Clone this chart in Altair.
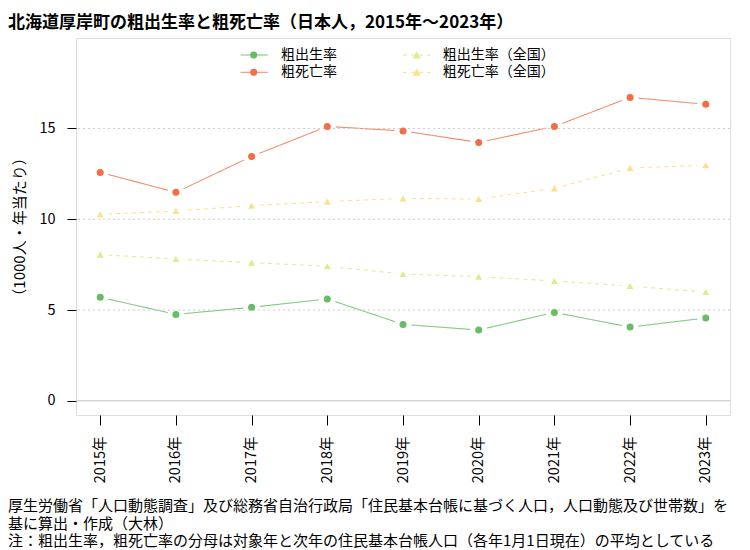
import altair as alt
import pandas as pd

years = [2015, 2016, 2017, 2018, 2019, 2020, 2021, 2022, 2023]
birth = [5.70, 4.76, 5.15, 5.61, 4.21, 3.90, 4.87, 4.06, 4.56]
death = [12.58, 11.48, 13.46, 15.11, 14.86, 14.23, 15.11, 16.71, 16.33]
birth_nat = [8.05, 7.81, 7.61, 7.41, 6.98, 6.84, 6.60, 6.32, 5.99]
death_nat = [10.27, 10.45, 10.75, 10.97, 11.15, 11.11, 11.70, 12.82, 12.97]

series_names = ["粗出生率", "粗死亡率", "粗出生率（全国）", "粗死亡率（全国）"]
series_values = [birth, death, birth_nat, death_nat]
series_colors = ["#66BD63", "#F46D43", "#D9EF8B", "#FEE08B"]
series_dash = [[1, 0], [1, 0], [4, 4], [4, 4]]
series_shapes = ["circle", "circle", "triangle-up", "triangle-up"]
series_sizes = [49, 49, 64, 64]

y_ticks = [0, 5, 10, 15]
grid_values = [5, 10, 15]

title_text = "北海道厚岸町の粗出生率と粗死亡率（日本人，2015年～2023年）"
y_title = "（1000人・年当たり）"
notes = [
    "厚生労働省「人口動態調査」及び総務省自治行政局「住民基本台帳に基づく人口，人口動態及び世帯数」を",
    "基に算出・作成（大林）",
    "注：粗出生率，粗死亡率の分母は対象年と次年の住民基本台帳人口（各年1月1日現在）の平均としている",
]

FONT = "Noto Sans CJK JP"

rows = []
for name, vals in zip(series_names, series_values):
    for y, v in zip(years, vals):
        rows.append({"year": y, "value": v, "series": name})
df = pd.DataFrame(rows)

xscale = alt.Scale(domain=[2014.68, 2023.32], nice=False, zero=False)
yscale = alt.Scale(domain=[-0.78, 19.98], nice=False, zero=False)
xaxis = alt.Axis(values=years, labelExpr="datum.value + '年'", labelAngle=270,
                 tickSize=10, labelPadding=11, labelFontSize=14.5, title=None,
                 grid=False, domain=False, tickColor="black", labelColor="black",
                 labelFont=FONT)
yaxis = alt.Axis(values=y_ticks, tickSize=9, labelPadding=12, labelFontSize=14.5,
                 title=y_title, titleFontSize=15, titleFontWeight="normal",
                 titleX=-57, titleY=188.5, titleAngle=270, titleAlign="center",
                 titleBaseline="middle", titleColor="black", titleFont=FONT,
                 grid=False, domain=False, tickColor="black", labelColor="black",
                 labelFont=FONT)

X = alt.X("year:Q", scale=xscale, axis=xaxis)
Y = alt.Y("value:Q", scale=yscale, axis=yaxis)

color = alt.Color("series:N", scale=alt.Scale(domain=series_names, range=series_colors), legend=None)
dash = alt.StrokeDash("series:N", scale=alt.Scale(domain=series_names, range=series_dash), legend=None)
shape = alt.Shape("series:N", scale=alt.Scale(domain=series_names, range=series_shapes), legend=None)
size = alt.Size("series:N", scale=alt.Scale(domain=series_names, range=series_sizes), legend=None)

base = alt.Chart(df)
lines = base.mark_line(strokeWidth=1).encode(x=X, y=Y, color=color, strokeDash=dash, detail="series:N")
halos = base.mark_point(filled=True, color="white", opacity=1, size=290, shape="circle", strokeWidth=0).encode(x=X, y=Y)

grid_df = pd.DataFrame({"value": grid_values})
grid = alt.Chart(grid_df).mark_rule(color="#CCCCCC", strokeDash=[2, 3], strokeWidth=1).encode(y=Y)
zero = alt.Chart(pd.DataFrame({"value": [0]})).mark_rule(color="#BEBEBE", strokeWidth=1).encode(y=Y)

points = base.mark_point(filled=True, opacity=1, strokeWidth=0).encode(x=X, y=Y, color=color, shape=shape, size=size)

one = pd.DataFrame({"a": [0]})
legend_layers = []
leg_pos = [(164.7, 191.7, 177.7, 205, 17), (164.7, 191.7, 177.7, 205, 34.3),
           (327, 354.7, 340.7, 366.7, 17), (327, 354.7, 340.7, 366.7, 34.3)]
for name, col, dsh, shp, sz, (x1, x2, px, tx, ly) in zip(series_names, series_colors, series_dash,
                                                       series_shapes, series_sizes, leg_pos):
    legend_layers.append(alt.Chart(one).mark_rule(color=col, strokeWidth=1, strokeDash=dsh).encode(
        x=alt.value(x1), x2=alt.value(x2), y=alt.value(ly)))
    legend_layers.append(alt.Chart(one).mark_point(filled=True, opacity=1, color=col, shape=shp, size=sz, strokeWidth=0).encode(
        x=alt.value(px), y=alt.value(ly)))
    legend_layers.append(alt.Chart(one).mark_text(align="left", baseline="middle", fontSize=14, font=FONT, color="black").encode(
        x=alt.value(tx), y=alt.value(ly), text=alt.value(name)))

title = alt.Chart(one).mark_text(align="left", baseline="middle", fontSize=17, fontWeight="bold", font=FONT, color="black").encode(
    x=alt.value(-68), y=alt.value(-15), text=alt.value(title_text))

note_layers = []
for t, yy in zip(notes, [468, 485.5, 503]):
    note_layers.append(alt.Chart(one).mark_text(align="left", baseline="middle", fontSize=15, font=FONT, color="black").encode(
        x=alt.value(-68), y=alt.value(yy), text=alt.value(t)))

chart = alt.layer(lines, halos, zero, grid, points, *legend_layers, title, *note_layers).properties(
    width=654, height=377,
    autosize=alt.AutoSizeParams(type="none"),
    padding={"left": 68, "top": 30, "right": 12, "bottom": 135},
).configure_view(stroke="black", strokeWidth=1).configure(font=FONT)

chart.save("out.html", embed_options={"renderer": "svg", "actions": False})
